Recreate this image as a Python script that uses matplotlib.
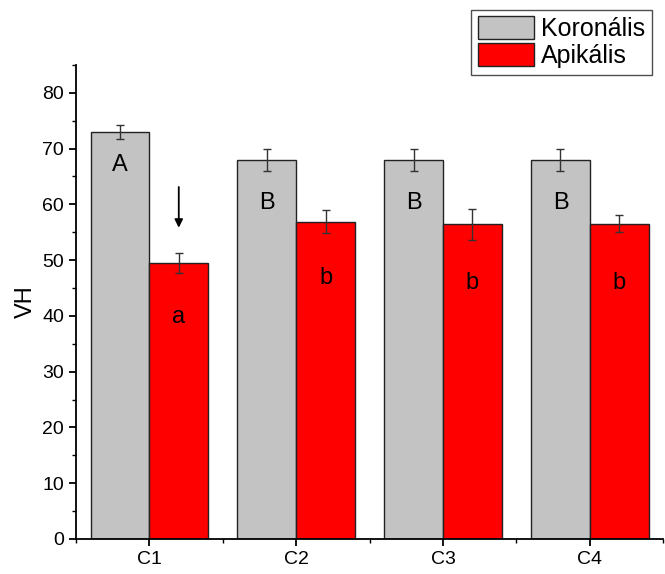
import matplotlib.pyplot as plt
from matplotlib.ticker import MultipleLocator
import numpy as np

plt.rcParams['font.family'] = ['Liberation Sans', 'DejaVu Sans']

kategoriak = ['C1', 'C2', 'C3', 'C4']
koronalis = [73.0, 68.0, 68.0, 68.0]
koronalis_hiba = [1.3, 2.0, 2.0, 2.0]
apikalis = [49.5, 56.9, 56.4, 56.5]
apikalis_hiba = [1.8, 2.0, 2.8, 1.5]
betuk_nagy = ['A', 'B', 'B', 'B']
betuk_kicsi = ['a', 'b', 'b', 'b']
betu_nagy_y = [67.0, 60.3, 60.3, 60.3]
betu_kicsi_y = [39.8, 46.8, 45.9, 45.9]

x = np.arange(1, len(kategoriak) + 1)
w = 0.4

fig = plt.figure(figsize=(6.65, 5.74), dpi=100)
ax = fig.add_axes([0.1143, 0.061, 0.883, 0.826])

ax.bar(x - w / 2, koronalis, w, color='#c3c3c3', edgecolor='#222222',
       linewidth=1.0, label='Koronális', zorder=2)
ax.bar(x + w / 2, apikalis, w, color='#ff0000', edgecolor='#222222',
       linewidth=1.0, label='Apikális', zorder=2)
ax.errorbar(x - w / 2, koronalis, yerr=koronalis_hiba, fmt='none',
            ecolor='#333333', elinewidth=1.0, capsize=3, capthick=1.0, zorder=3)
ax.errorbar(x + w / 2, apikalis, yerr=apikalis_hiba, fmt='none',
            ecolor='#333333', elinewidth=1.0, capsize=3, capthick=1.0, zorder=3)

for i in range(len(x)):
    ax.text(x[i] - w / 2, betu_nagy_y[i], betuk_nagy[i], ha='center',
            va='center', fontsize=17, zorder=4)
    ax.text(x[i] + w / 2, betu_kicsi_y[i], betuk_kicsi[i], ha='center',
            va='center', fontsize=17, zorder=4)

# nyil a C1 apikalis oszlop felett
ax.annotate('', xy=(x[0] + w / 2, 55.3), xytext=(x[0] + w / 2, 63.6),
            arrowprops=dict(arrowstyle='-|>', color='black', lw=1.3,
                            mutation_scale=12))

ax.set_xlim(0.5, 4.5)
ax.set_ylim(0, 85)
ax.set_xticks(x)
ax.set_xticklabels(kategoriak)
ax.xaxis.set_minor_locator(MultipleLocator(1, offset=0.5))
ax.yaxis.set_major_locator(MultipleLocator(10))
ax.yaxis.set_minor_locator(MultipleLocator(5))
ax.tick_params(axis='both', which='major', direction='out', length=5,
               width=1.3, labelsize=14)
ax.tick_params(axis='both', which='minor', direction='out', length=3,
               width=1.0)
ax.set_ylabel('VH', fontsize=17)

for s in ['top', 'right']:
    ax.spines[s].set_visible(False)
for s in ['left', 'bottom']:
    ax.spines[s].set_linewidth(1.3)

leg = fig.legend(loc='upper right', bbox_to_anchor=(0.980, 0.983),
                 fontsize=18, frameon=True, fancybox=False, edgecolor='#222222',
                 handlelength=2.25, handleheight=1.05, handletextpad=0.3,
                 borderpad=0.25, labelspacing=0.08, borderaxespad=0)
leg.get_frame().set_linewidth(1.0)

fig.savefig('out.png', dpi=100)
